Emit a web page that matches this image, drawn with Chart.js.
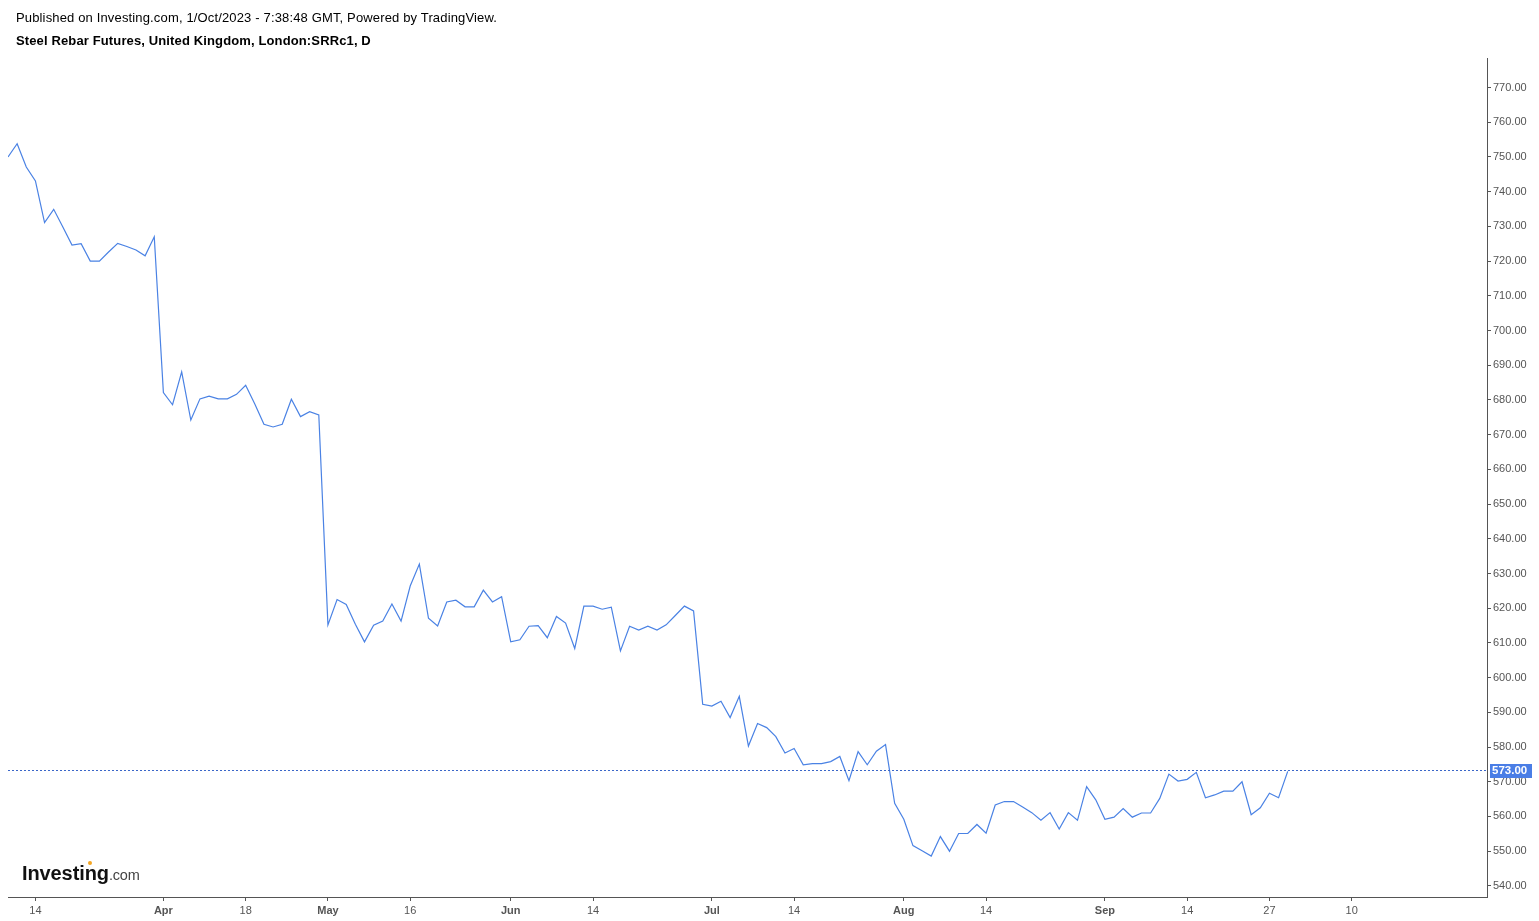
<!DOCTYPE html>
<html>
<head>
<meta charset="utf-8">
<script src="https://cdn.jsdelivr.net/npm/chart.js@4"></script>
<style>
  html, body { margin: 0; padding: 0; background: #fff; }
  #wrap { position: relative; width: 1539px; height: 921px; overflow: hidden; }
  #c { position: absolute; left: 0; top: 0; }
  .t1 { position: absolute; left: 16px; top: 10px; font: 13px "Liberation Sans", Arial, sans-serif; letter-spacing: 0.15px; color: #000; white-space: nowrap; }
  .t2 { position: absolute; left: 16px; top: 33px; font: bold 13px "Liberation Sans", Arial, sans-serif; letter-spacing: 0.13px; color: #000; white-space: nowrap; }
  .logo { position: absolute; left: 22px; top: 863px; line-height: 20px; white-space: nowrap; font-family: "Liberation Sans", Arial, sans-serif; }
  .logo .a { font-weight: bold; font-size: 20px; color: #111; letter-spacing: -0.1px; }
  .logo .b { font-size: 14.5px; color: #444; letter-spacing: -0.2px; }
  .dot { position: absolute; left: 88px; top: 861px; width: 4px; height: 4px; border-radius: 2px; background: #f5a623; }
</style>
</head>
<body>
<div id="wrap">
  <canvas id="c" width="1539" height="921"></canvas>
  <div class="t1">Published on Investing.com, 1/Oct/2023 - 7:38:48 GMT, Powered by TradingView.</div>
  <div class="t2">Steel Rebar Futures, United Kingdom, London:SRRc1, D</div>
  <div class="logo"><span class="a">Investing</span><span class="b">.com</span></div>
  <div class="dot"></div>
</div>
<script>
// Daily closes (trading-day index 0 = 9 Mar 2023 ... 140 = 29 Sep 2023)
const values = [
  750.0, 753.8, 747.1, 743.1, 731.1, 734.9, 729.8, 724.6, 725.0, 720.0,
  720.0, 722.6, 725.1, 724.2, 723.2, 721.5, 727.0, 682.1, 678.6, 688.1,
  674.2, 680.3, 681.1, 680.3, 680.3, 681.6, 684.2, 678.8, 673.0, 672.2,
  673.0, 680.2, 675.2, 676.6, 675.7, 615.2, 622.5, 621.1, 615.4, 610.3,
  615.1, 616.3, 621.2, 616.3, 626.4, 632.7, 617.1, 614.9, 621.8, 622.3,
  620.4, 620.4, 625.2, 621.8, 623.3, 610.3, 610.9, 614.8, 615.0, 611.5,
  617.6, 615.7, 608.4, 620.6, 620.6, 619.7, 620.3, 607.7, 614.8, 613.7,
  614.8, 613.7, 615.2, 617.9, 620.6, 619.2, 592.3, 591.8, 593.2, 588.5,
  594.6, 580.3, 586.8, 585.6, 583.0, 578.3, 579.6, 574.9, 575.2, 575.2,
  575.8, 577.3, 570.3, 578.7, 574.9, 578.8, 580.7, 563.8, 559.2, 551.6,
  550.1, 548.6, 554.2, 550.0, 555.1, 555.1, 557.7, 555.2, 563.3, 564.3,
  564.3, 562.7, 561.1, 558.9, 561.1, 556.4, 561.1, 558.9, 568.6, 564.8,
  559.2, 559.8, 562.3, 559.8, 561.0, 561.0, 565.2, 572.2, 570.2, 570.7,
  572.7, 565.4, 566.2, 567.3, 567.3, 570.0, 560.5, 562.5, 566.7, 565.4,
  573.0
];
// x-axis tick positions (trading-day index) and their labels
const tickIndex  = [3, 17, 26, 35, 44, 55, 64, 77, 86, 98, 107, 120, 129, 138, 147];
const tickLabels = ['14', 'Apr', '18', 'May', '16', 'Jun', '14', 'Jul', '14', 'Aug', '14', 'Sep', '14', '27', '10'];
// y-axis tick values
const yTicks = [540, 550, 560, 570, 580, 590, 600, 610, 620, 630, 640, 650, 660, 670, 680, 690, 700, 710, 720, 730, 740, 750, 760, 770];
const lastValue = values[values.length - 1];

const points = values.map((v, i) => ({ x: i, y: v }));
const LINE = '#4a82e4';
const AXIS = '#555555';
const TXT = '#555555';
const FONT = '"Liberation Sans", Arial, sans-serif';

const lastPricePlugin = {
  id: 'lastPrice',
  afterDatasetsDraw(chart) {
    const { ctx, chartArea, scales } = chart;
    const y = Math.round(scales.y.getPixelForValue(lastValue)) - 0.5;
    ctx.save();
    ctx.strokeStyle = '#3a66c8';
    ctx.lineWidth = 1;
    ctx.setLineDash([2, 2]);
    ctx.beginPath();
    ctx.moveTo(chartArea.left, y);
    ctx.lineTo(chartArea.right, y);
    ctx.stroke();
    ctx.restore();
  },
  afterDraw(chart) {
    const { ctx, chartArea, scales } = chart;
    const y = Math.round(scales.y.getPixelForValue(lastValue)) - 0.5;
    ctx.save();
    ctx.fillStyle = '#4a7ee6';
    ctx.fillRect(chartArea.right + 3, Math.round(y - 7), 42, 14);
    ctx.fillStyle = '#ffffff';
    ctx.font = 'bold 11.5px ' + FONT;
    ctx.textBaseline = 'middle';
    ctx.textAlign = 'left';
    ctx.fillText(lastValue.toFixed(2), chartArea.right + 5, y + 0.5);
    ctx.restore();
  }
};

new Chart(document.getElementById('c'), {
  type: 'line',
  data: {
    datasets: [{
      data: points,
      borderColor: LINE,
      borderWidth: 1.2,
      pointRadius: 0,
      tension: 0,
      fill: false
    }]
  },
  options: {
    responsive: false,
    animation: false,
    devicePixelRatio: 1,
    layout: { padding: { left: 8, top: 58, right: 0, bottom: 0 } },
    plugins: { legend: { display: false }, tooltip: { enabled: false }, title: { display: false } },
    scales: {
      x: {
        type: 'linear',
        min: 0,
        max: 161.8,
        afterBuildTicks: (s) => { s.ticks = tickIndex.map(v => ({ value: v })); },
        afterFit: (s) => { s.height = 24; },
        grid: { display: true, drawOnChartArea: false, drawTicks: true, tickLength: 4, color: AXIS },
        border: { display: true, color: AXIS, width: 1 },
        ticks: {
          autoSkip: false, maxRotation: 0, minRotation: 0, padding: 3,
          color: TXT,
          font: (ctx) => {
            const k = tickIndex.indexOf(ctx.tick ? ctx.tick.value : -1);
            const isMonth = k >= 0 && isNaN(Number(tickLabels[k]));
            return { family: FONT, size: 11, weight: isMonth ? 'bold' : 'normal' };
          },
          callback: (v) => { const k = tickIndex.indexOf(v); return k >= 0 ? tickLabels[k] : ''; }
        }
      },
      y: {
        position: 'right',
        min: 536.8,
        max: 778.5,
        afterBuildTicks: (s) => { s.ticks = yTicks.map(v => ({ value: v })); },
        afterFit: (s) => { s.width = 52; },
        grid: { display: true, drawOnChartArea: false, drawTicks: true, tickLength: 4, color: AXIS },
        border: { display: true, color: AXIS, width: 1 },
        ticks: {
          padding: 2, color: TXT, font: { family: FONT, size: 11 },
          callback: (v) => Number(v).toFixed(2)
        }
      }
    }
  },
  plugins: [lastPricePlugin]
});
</script>
</body>
</html>
